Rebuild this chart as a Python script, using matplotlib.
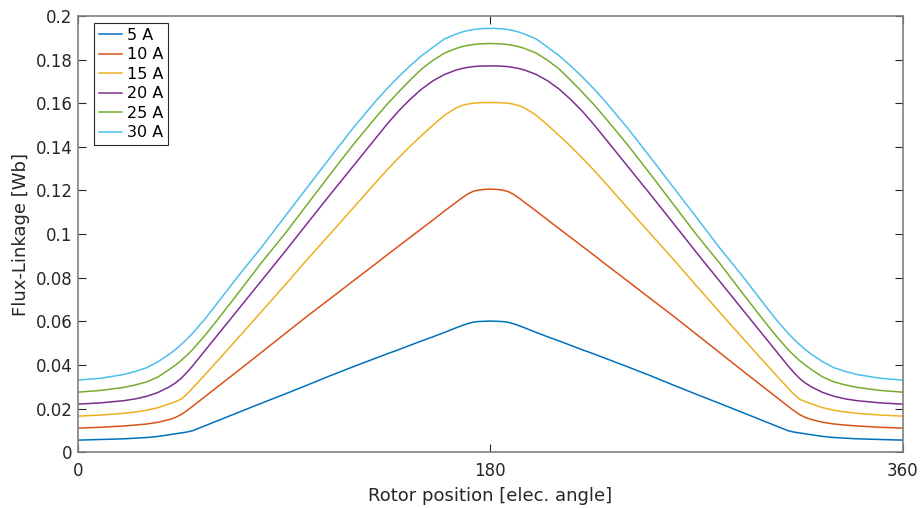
import matplotlib.pyplot as plt
import numpy as np

# ================= data =================
# rotor angle for the first half period (0..180 deg), mirrored for 180..360
half_angle = [0, 10, 20, 25, 30, 35, 40, 42.5, 45, 47.5, 50, 55, 60, 70, 80,
              90, 100, 110, 120, 130, 135, 140, 145, 150, 155, 160, 165, 167.5,
              170, 172.5, 175, 177.5, 180]

currents = ['5 A', '10 A', '15 A', '20 A', '25 A', '30 A']

psi_5A = [0.0055, 0.0058, 0.0061, 0.0064, 0.0067, 0.0072, 0.0080, 0.0084,
          0.0088, 0.0092, 0.0098, 0.0119, 0.0140, 0.0182, 0.0224, 0.0265,
          0.0307, 0.0350, 0.0391, 0.0431, 0.0451, 0.0470, 0.0490, 0.0510,
          0.0529, 0.0549, 0.0570, 0.0580, 0.0589, 0.0596, 0.0599, 0.0600,
          0.0601]
psi_10A = [0.0110, 0.0114, 0.0120, 0.0124, 0.0129, 0.0137, 0.0150, 0.0159,
           0.0172, 0.0190, 0.0210, 0.0251, 0.0292, 0.0374, 0.0457, 0.0540,
           0.0623, 0.0703, 0.0784, 0.0864, 0.0905, 0.0945, 0.0985, 0.1025,
           0.1065, 0.1106, 0.1145, 0.1165, 0.1183, 0.1196, 0.1202, 0.1205,
           0.1206]
psi_15A = [0.0165, 0.0170, 0.0178, 0.0184, 0.0192, 0.0204, 0.0222, 0.0231,
           0.0243, 0.0265, 0.0293, 0.0350, 0.0408, 0.0525, 0.0643, 0.0762,
           0.0883, 0.1000, 0.1118, 0.1237, 0.1295, 0.1350, 0.1403, 0.1452,
           0.1500, 0.1545, 0.1578, 0.1589, 0.1596, 0.1600, 0.1602, 0.1603,
           0.1603]
psi_20A = [0.0220, 0.0226, 0.0236, 0.0244, 0.0256, 0.0274, 0.0300, 0.0317,
           0.0338, 0.0365, 0.0395, 0.0460, 0.0525, 0.0655, 0.0785, 0.0915,
           0.1048, 0.1180, 0.1310, 0.1440, 0.1505, 0.1565, 0.1618, 0.1665,
           0.1703, 0.1732, 0.1752, 0.1759, 0.1764, 0.1768, 0.1770, 0.1771,
           0.1771]
psi_25A = [0.0275, 0.0283, 0.0297, 0.0308, 0.0322, 0.0345, 0.0380, 0.0399,
           0.0420, 0.0444, 0.0470, 0.0530, 0.0595, 0.0730, 0.0868, 0.0997,
           0.1135, 0.1273, 0.1408, 0.1535, 0.1596, 0.1652, 0.1706, 0.1757,
           0.1797, 0.1830, 0.1851, 0.1859, 0.1865, 0.1869, 0.1872, 0.1873,
           0.1874]
psi_30A = [0.0330, 0.0339, 0.0356, 0.0370, 0.0387, 0.0415, 0.0450, 0.0470,
           0.0493, 0.0518, 0.0545, 0.0605, 0.0672, 0.0808, 0.0938, 0.1076,
           0.1213, 0.1350, 0.1485, 0.1610, 0.1668, 0.1722, 0.1772, 0.1818,
           0.1857, 0.1895, 0.1917, 0.1926, 0.1933, 0.1938, 0.1941, 0.1943,
           0.1943]

colors = ['#0072BD', '#D95319', '#EDB120', '#7E2F8E', '#77AC30', '#4DBEEE']


def full_period(half):
    # curves are symmetric about 180 deg
    h = np.asarray(half)
    return np.concatenate([h, h[-2::-1]])


angle = np.concatenate([np.asarray(half_angle),
                        360 - np.asarray(half_angle)[-2::-1]])

if __name__ == '__main__':
    plt.rcParams['font.family'] = 'DejaVu Sans'
    axis_color = '#262626'

    fig = plt.figure(figsize=(9.23, 5.08), dpi=100)
    ax = fig.add_axes([0.0845, 0.110, 0.8935, 0.8585])

    for psi, lab, c in zip([psi_5A, psi_10A, psi_15A, psi_20A, psi_25A, psi_30A],
                           currents, colors):
        ax.plot(angle, full_period(psi), color=c, linewidth=1.1, label=lab)

    ax.set_xlim(0, 360)
    ax.set_ylim(0, 0.2)
    ax.set_xticks([0, 180, 360])
    yt = np.round(np.arange(0, 0.2001, 0.02), 2)
    ax.set_yticks(yt)
    ax.set_yticklabels([f'{v:g}' for v in yt])

    ax.tick_params(direction='in', length=6, width=0.8, color=axis_color,
                   labelcolor=axis_color, labelsize=12,
                   top=True, right=True)
    ax.tick_params(axis='x', pad=7)
    ax.tick_params(axis='y', pad=4)
    for s in ax.spines.values():
        s.set_color('#7f7f7f')
        s.set_linewidth(1.2)

    ax.set_xlabel('Rotor position [elec. angle]', fontsize=13, color=axis_color,
                  labelpad=5)
    ax.set_ylabel('Flux-Linkage [Wb]', fontsize=13, color=axis_color)

    leg = ax.legend(loc='upper left', bbox_to_anchor=(0.0194, 0.984),
                    borderaxespad=0, fontsize=11.5, handlelength=1.45,
                    handletextpad=0.3, labelspacing=0.28, borderpad=0.3,
                    fancybox=False, framealpha=1)
    leg.get_frame().set_edgecolor(axis_color)
    leg.get_frame().set_linewidth(0.8)

    plt.savefig('out.png', dpi=100)
